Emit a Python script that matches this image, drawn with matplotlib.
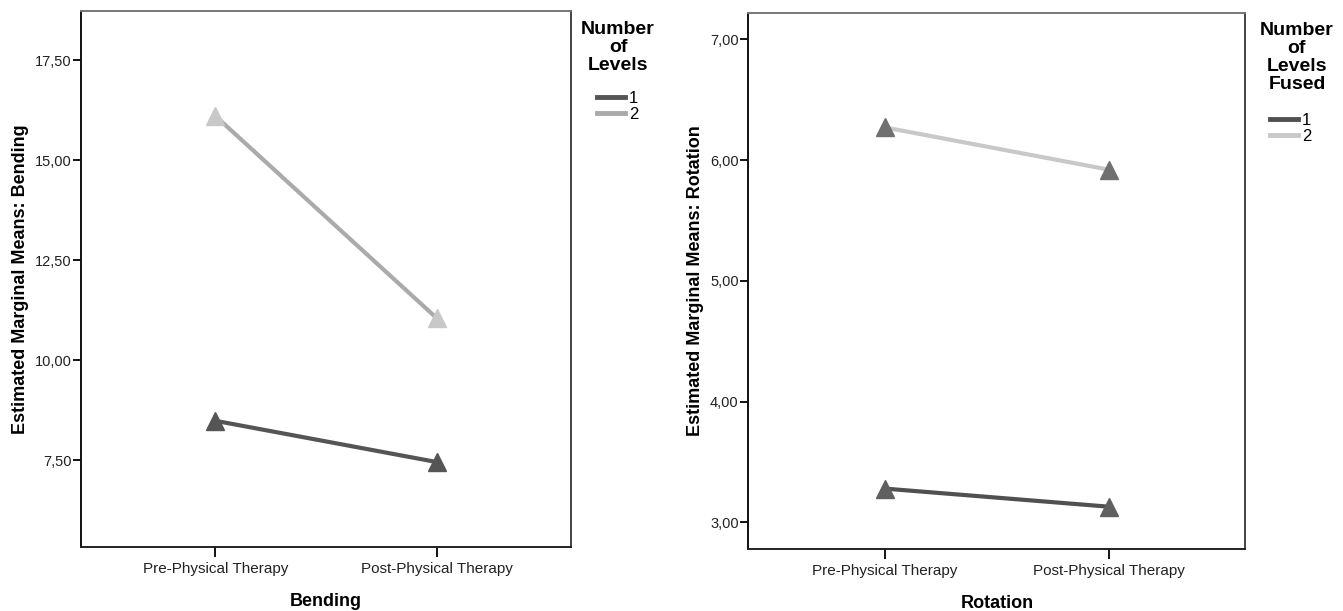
import numpy as np
from matplotlib import pyplot as plt
from matplotlib.lines import Line2D

plt.rcParams['font.family'] = ['Liberation Sans', 'DejaVu Sans']

phases = ['Pre-Physical Therapy', 'Post-Physical Therapy']
groups = ['1', '2']

# estimated marginal means
bending_1 = [8.48, 7.45]
bending_2 = [16.10, 11.05]
rotation_1 = [3.28, 3.13]
rotation_2 = [6.27, 5.92]

bend_ticks = [7.5, 10.0, 12.5, 15.0, 17.5]
rot_ticks = [3.0, 4.0, 5.0, 6.0, 7.0]


def comma(v):
    return ('%.2f' % v).replace('.', ',')


fig = plt.figure(figsize=(13.43, 6.11), dpi=100)
ax1 = fig.add_axes([0.0603, 0.1047, 0.3649, 0.8773])
ax2 = fig.add_axes([0.5572, 0.1015, 0.3701, 0.8768])

x = np.arange(len(phases))

dark = '#555555'
mid = '#aaaaaa'
light = '#c8c8c8'

# left panel
ax1.plot(x, bending_1, color=dark, lw=3, marker='^', ms=13, mfc='#555555', mec='#555555', zorder=3)
ax1.plot(x, bending_2, color=mid, lw=3, marker='^', ms=13, mfc=light, mec=light, zorder=3)
ax1.set_ylim(5.325, 18.725)
ax1.set_yticks(bend_ticks)
ax1.set_yticklabels([comma(v) for v in bend_ticks])
ax1.set_ylabel('Estimated Marginal Means: Bending', fontsize=13, fontweight='bold', labelpad=4)
ax1.set_xlabel('Bending', fontsize=13, fontweight='bold', labelpad=12)

# right panel
ax2.plot(x, rotation_1, color='#505050', lw=3, marker='^', ms=13, mfc='#606060', mec='#606060', zorder=3)
ax2.plot(x, rotation_2, color=light, lw=3, marker='^', ms=13, mfc='#707070', mec='#707070', zorder=3)
ax2.set_ylim(2.78, 7.215)
ax2.set_yticks(rot_ticks)
ax2.set_yticklabels([comma(v) for v in rot_ticks])
ax2.set_ylabel('Estimated Marginal Means: Rotation', fontsize=13, fontweight='bold', labelpad=4)
ax2.set_xlabel('Rotation', fontsize=13, fontweight='bold', labelpad=12)

for ax in (ax1, ax2):
    ax.set_xlim(-0.608, 1.608)
    ax.set_xticks(x)
    ax.set_xticklabels(phases, fontsize=11, color='#222222')
    ax.tick_params(axis='y', labelsize=10.5, labelcolor='#222222', length=6, width=1.3,
                   direction='out', pad=1)
    ax.tick_params(axis='x', length=7, width=1.3, direction='out', pad=4)
    ax.spines['left'].set_color('#111111')
    ax.spines['bottom'].set_color('#222222')
    ax.spines['top'].set_color('#777777')
    ax.spines['right'].set_color('#444444')
    for s in ax.spines.values():
        s.set_linewidth(1.4)

# legend titles as separate centred text, entries below
fig.text(618 / 1343, 1 - 21 / 611, 'Number\nof\nLevels', ha='center', va='top',
         fontsize=14, fontweight='bold', linespacing=1.08)
h1 = [Line2D([], [], color=dark, lw=3.5), Line2D([], [], color=mid, lw=3.5)]
fig.legend(h1, groups, loc='upper left', bbox_to_anchor=(597 / 1343, 1 - 91 / 611),
           frameon=False, fontsize=12, handlelength=1.7, handletextpad=0.2,
           labelspacing=0.05, borderpad=0, borderaxespad=0)

fig.text(1297 / 1343, 1 - 22 / 611, 'Number\nof\nLevels\nFused', ha='center', va='top',
         fontsize=14, fontweight='bold', linespacing=1.08)
h2 = [Line2D([], [], color='#505050', lw=3.5), Line2D([], [], color=light, lw=3.5)]
fig.legend(h2, groups, loc='upper left', bbox_to_anchor=(1270 / 1343, 1 - 113 / 611),
           frameon=False, fontsize=12, handlelength=1.7, handletextpad=0.2,
           labelspacing=0.05, borderpad=0, borderaxespad=0)

fig.savefig('out.png', dpi=100)
